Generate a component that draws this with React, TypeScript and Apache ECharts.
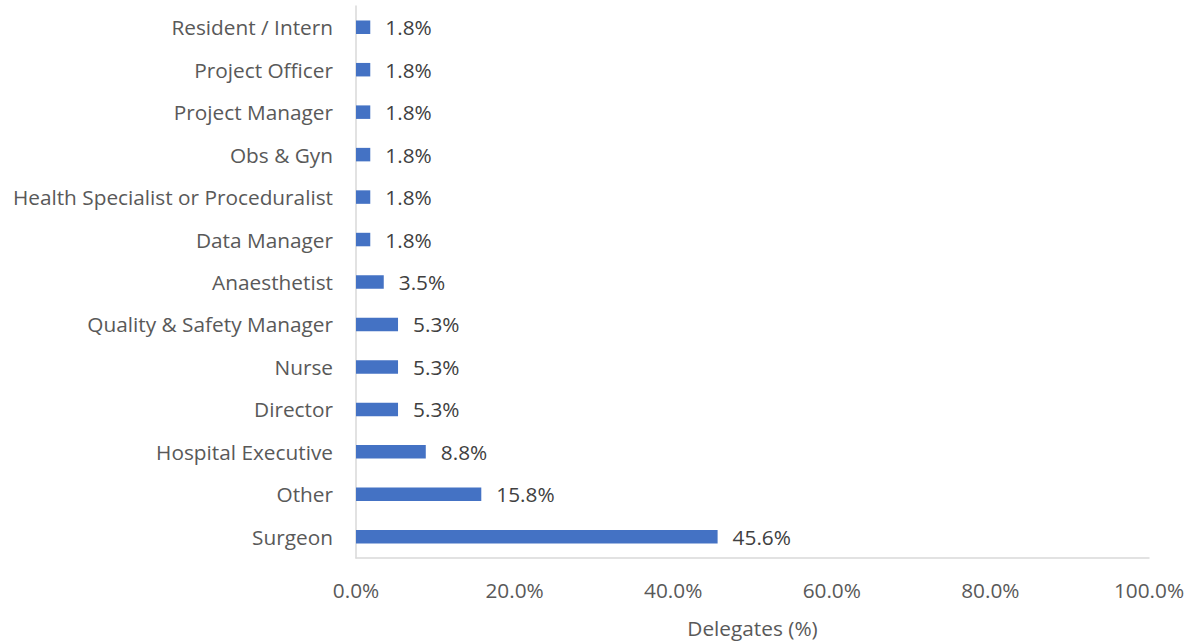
import React, { useEffect, useRef } from "react";
import * as echarts from "echarts";

const categories = [
  "Surgeon",
  "Other",
  "Hospital Executive",
  "Director",
  "Nurse",
  "Quality & Safety Manager",
  "Anaesthetist",
  "Data Manager",
  "Health Specialist or Proceduralist",
  "Obs & Gyn",
  "Project Manager",
  "Project Officer",
  "Resident / Intern",
];
const values = [45.6, 15.8, 8.8, 5.3, 5.3, 5.3, 3.5, 1.8, 1.8, 1.8, 1.8, 1.8, 1.8];
const xTicks = { min: 0, max: 100, interval: 20 };
const xAxisName = "Delegates (%)";

const FONT = "'Open Sans', sans-serif";
const FS = 20.8;
const TEXT = "#595959";

export default function App() {
  const ref = useRef<HTMLDivElement>(null);
  useEffect(() => {
    if (!ref.current) return;
    const chart = echarts.init(ref.current, undefined, { renderer: "svg" });
    chart.setOption({
      animation: false,
      grid: { left: 356, right: 46, top: 6, bottom: 80.5, containLabel: false },
      xAxis: {
        type: "value",
        min: xTicks.min,
        max: xTicks.max,
        interval: xTicks.interval,
        name: xAxisName,
        nameLocation: "middle",
        nameGap: 59,
        nameTextStyle: { color: TEXT, fontSize: FS, fontFamily: FONT },
        axisLine: { show: true, lineStyle: { color: "#d9d9d9", width: 1.5 } },
        axisTick: { show: false },
        splitLine: { show: false },
        axisLabel: {
          color: TEXT,
          fontSize: FS,
          fontFamily: FONT,
          margin: 21,
          formatter: (v: number) => v.toFixed(1) + "%",
        },
      },
      yAxis: {
        type: "category",
        data: categories,
        axisLine: { show: true, lineStyle: { color: "#d9d9d9", width: 1.5 } },
        axisTick: { show: false },
        axisLabel: { color: TEXT, fontSize: FS, fontFamily: FONT, margin: 23 },
      },
      series: [
        {
          type: "bar",
          data: values,
          barWidth: 13.5,
          itemStyle: { color: "#4472C4" },
          label: {
            show: true,
            position: "right",
            distance: 15,
            color: "#404040",
            fontSize: FS,
            fontFamily: FONT,
            formatter: (p: any) => p.value.toFixed(1) + "%",
          },
        },
      ],
    });
    return () => chart.dispose();
  }, []);
  return <div ref={ref} style={{ width: 1195, height: 643, position: "absolute", left: 0, top: 0 }} />;
}
